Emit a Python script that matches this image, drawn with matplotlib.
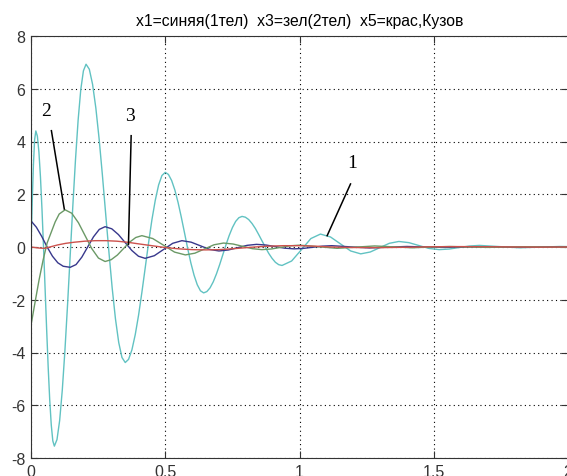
import numpy as np
import matplotlib
matplotlib.use("Agg")
import matplotlib.pyplot as plt

# values
t_cyan = [0.0, 0.0045, 0.009, 0.0135, 0.018,
          0.02375, 0.0295, 0.03525, 0.041, 0.04675, 0.0525,
          0.05825, 0.064, 0.06975, 0.0755, 0.08125, 0.087,
          0.09683, 0.1067, 0.1165, 0.1263, 0.1362, 0.146,
          0.1558, 0.1657, 0.1755, 0.1853, 0.1952, 0.205,
          0.2172, 0.2293, 0.2415, 0.2537, 0.2658, 0.278,
          0.2902, 0.3023, 0.3145, 0.3267, 0.3388, 0.351,
          0.3634, 0.3758, 0.3883, 0.4007, 0.4131, 0.4255,
          0.4379, 0.4503, 0.4628, 0.4752, 0.4876, 0.500,
          0.5119, 0.5238, 0.5358, 0.5477, 0.5596, 0.5715,
          0.5834, 0.5953, 0.6073, 0.6192, 0.6311, 0.643,
          0.6549, 0.6668, 0.6788, 0.6907, 0.7026, 0.7145,
          0.7264, 0.7383, 0.7503, 0.7622, 0.7741, 0.786,
          0.7984, 0.8108, 0.8233, 0.8357, 0.8481, 0.8605,
          0.8729, 0.8853, 0.8978, 0.9102, 0.9226, 0.935,
          0.9708, 1.0065, 1.0423, 1.078,
          1.1155, 1.153, 1.1905, 1.228,
          1.2635, 1.299, 1.3345, 1.370,
          1.4075, 1.445, 1.4825, 1.520,
          1.5575, 1.595, 1.6325, 1.670,
          1.745, 1.820, 1.895, 1.970, 2.0]
y_cyan = [0.0, 1.68, 3.11, 4.07, 4.40,
          4.20, 3.60, 2.65, 1.41, -0.03, -1.58,
          -3.12, -4.56, -5.80, -6.75, -7.35, -7.55,
          -7.30, -6.58, -5.43, -3.93, -2.18, -0.31,
          1.56, 3.31, 4.81, 5.96, 6.68, 6.93,
          6.74, 6.17, 5.27, 4.10, 2.74, 1.27,
          -0.19, -1.55, -2.72, -3.62, -4.19, -4.38,
          -4.26, -3.90, -3.32, -2.58, -1.71, -0.78,
          0.16, 1.03, 1.77, 2.35, 2.71, 2.83,
          2.75, 2.52, 2.16, 1.69, 1.14, 0.55,
          -0.05, -0.60, -1.07, -1.43, -1.66, -1.74,
          -1.69, -1.55, -1.32, -1.02, -0.67, -0.29,
          0.09, 0.44, 0.74, 0.97, 1.11, 1.16,
          1.13, 1.04, 0.89, 0.70, 0.47, 0.23,
          -0.01, -0.24, -0.43, -0.58, -0.67, -0.70,
          -0.53, -0.11, 0.32, 0.49,
          0.38, 0.115, -0.15, -0.26,
          -0.19, -0.025, 0.14, 0.21,
          0.165, 0.055, -0.055, -0.10,
          -0.077, -0.02, 0.037, 0.06,
          0.015, -0.03, -0.005, 0.02, 0.015]

t_blue = [0.0, 0.02, 0.04, 0.06, 0.08, 0.10, 0.12, 0.146,
          0.1677, 0.1893, 0.211, 0.2327, 0.2543, 0.276,
          0.3008, 0.3257, 0.3505, 0.3753, 0.4002, 0.425,
          0.4593, 0.4935, 0.5278, 0.562,
          0.5965, 0.631, 0.6655, 0.70,
          0.735, 0.77, 0.805, 0.84,
          0.875, 0.91, 0.945, 0.98,
          1.015, 1.05, 1.085, 1.12,
          1.19, 1.26, 1.33, 1.40, 1.47, 1.54, 1.61, 1.68,
          1.75, 1.82, 1.89, 1.96, 2.0]
y_blue = [0.99, 0.75, 0.40, 0.0, -0.35, -0.60, -0.73, -0.77,
          -0.667, -0.385, 0.0, 0.385, 0.667, 0.77,
          0.69, 0.47, 0.17, -0.13, -0.35, -0.43,
          -0.33, -0.095, 0.14, 0.24,
          0.183, 0.045, -0.093, -0.15,
          -0.113, -0.025, 0.063, 0.10,
          0.075, 0.015, -0.045, -0.07,
          -0.052, -0.01, 0.032, 0.05,
          0.005, -0.035, -0.005, 0.02, 0.0, -0.015, 0.0, 0.01,
          0.0, -0.008, 0.0, 0.005, 0.003]

t_green = [0.0, 0.015, 0.03, 0.045, 0.06, 0.075, 0.09, 0.105, 0.127,
           0.1518, 0.1767, 0.2015, 0.2263, 0.2512, 0.276,
           0.2988, 0.3217, 0.3445, 0.3673, 0.3902, 0.413,
           0.4535, 0.494, 0.5345, 0.575,
           0.6105, 0.646, 0.6815, 0.717,
           0.7528, 0.7885, 0.8243, 0.86,
           0.895, 0.93, 0.965, 1.00,
           1.07, 1.14, 1.21, 1.28, 1.35, 1.42, 1.49, 1.56,
           1.63, 1.70, 1.77, 1.84, 1.91, 2.0]
y_green = [-2.97, -2.1, -1.25, -0.5, 0.15, 0.55, 0.95, 1.25, 1.41,
           1.28, 0.92, 0.43, -0.06, -0.42, -0.55,
           -0.48, -0.305, -0.06, 0.185, 0.36, 0.43,
           0.32, 0.065, -0.193, -0.30,
           -0.234, -0.075, 0.084, 0.15,
           0.113, 0.025, -0.063, -0.10,
           -0.075, -0.015, 0.045, 0.07,
           0.01, -0.05, -0.005, 0.04, 0.005, -0.03, 0.0, 0.02,
           0.0, -0.015, 0.0, 0.01, 0.0, -0.005]

t_red = [0.0, 0.03, 0.05, 0.07, 0.10, 0.13, 0.16, 0.20, 0.24, 0.28,
         0.32, 0.36, 0.40, 0.45, 0.50, 0.55, 0.60, 0.65, 0.70, 0.76,
         0.82, 0.88, 0.94, 1.00, 1.06, 1.12, 1.2, 1.3, 1.4, 1.5,
         1.6, 1.7, 1.8, 1.9, 2.0]
y_red = [0.0, -0.04, -0.05, 0.0, 0.08, 0.14, 0.18, 0.22, 0.24, 0.24,
         0.22, 0.18, 0.12, 0.05, -0.02, -0.07, -0.10, -0.11, -0.10, -0.06,
         -0.01, 0.03, 0.05, 0.05, 0.03, 0.0, -0.02, -0.025, -0.01, 0.01,
         0.015, 0.01, 0.0, -0.005, 0.0]

# hand-drawn labels and their pointer lines
ann_labels = ["2", "3", "1"]
ann_text = [(0.055, 5.17), (0.369, 4.97), (1.197, 3.21)]
ann_from = [(0.076, 4.41), (0.373, 4.22), (1.19, 2.39)]
ann_to = [(0.124, 1.44), (0.363, 0.10), (1.103, 0.43)]

title = "x1=синяя(1тел)  x3=зел(2тел)  x5=крас,Кузов"
xticks = [0, 0.5, 1, 1.5, 2]
xticklabels = ["0", "0.5", "1", "1.5", "2"]
yticks = [-8, -6, -4, -2, 0, 2, 4, 6, 8]

plt.rcParams['font.family'] = ['Liberation Sans', 'DejaVu Sans']
plt.rcParams['axes.unicode_minus'] = False

fig = plt.figure(figsize=(5.67, 4.77), dpi=100)
ax = fig.add_axes([31/567, 18/477, 537/567, 422/477])

ax.plot(t_cyan, y_cyan, color=(0.38, 0.76, 0.76), lw=1.0)
ax.plot(t_blue, y_blue, color=(0.22, 0.22, 0.55), lw=1.0)
ax.plot(t_green, y_green, color=(0.42, 0.6, 0.4), lw=1.0)
ax.plot(t_red, y_red, color=(0.8, 0.32, 0.3), lw=1.0)

for lab, txy, p0, p1 in zip(ann_labels, ann_text, ann_from, ann_to):
    ax.plot([p0[0], p1[0]], [p0[1], p1[1]], color="black", lw=1.1)
    ax.text(txy[0], txy[1], lab, ha="center", va="center",
            fontsize=14, family="Liberation Serif")

ax.set_xlim(0, 2)
ax.set_ylim(-8, 8)
ax.set_xticks(xticks)
ax.set_xticklabels(xticklabels)
ax.set_yticks(yticks)
ax.tick_params(direction="in", top=True, right=True, length=5,
               labelsize=11.5, colors="#333333", pad=4)
ax.grid(True, color="black", linestyle=(0, (1, 3)), linewidth=0.8)
for s in ax.spines.values():
    s.set_color("#333333")
ax.set_title(title, fontsize=11.3, pad=8)

fig.savefig("out.png", dpi=100)
